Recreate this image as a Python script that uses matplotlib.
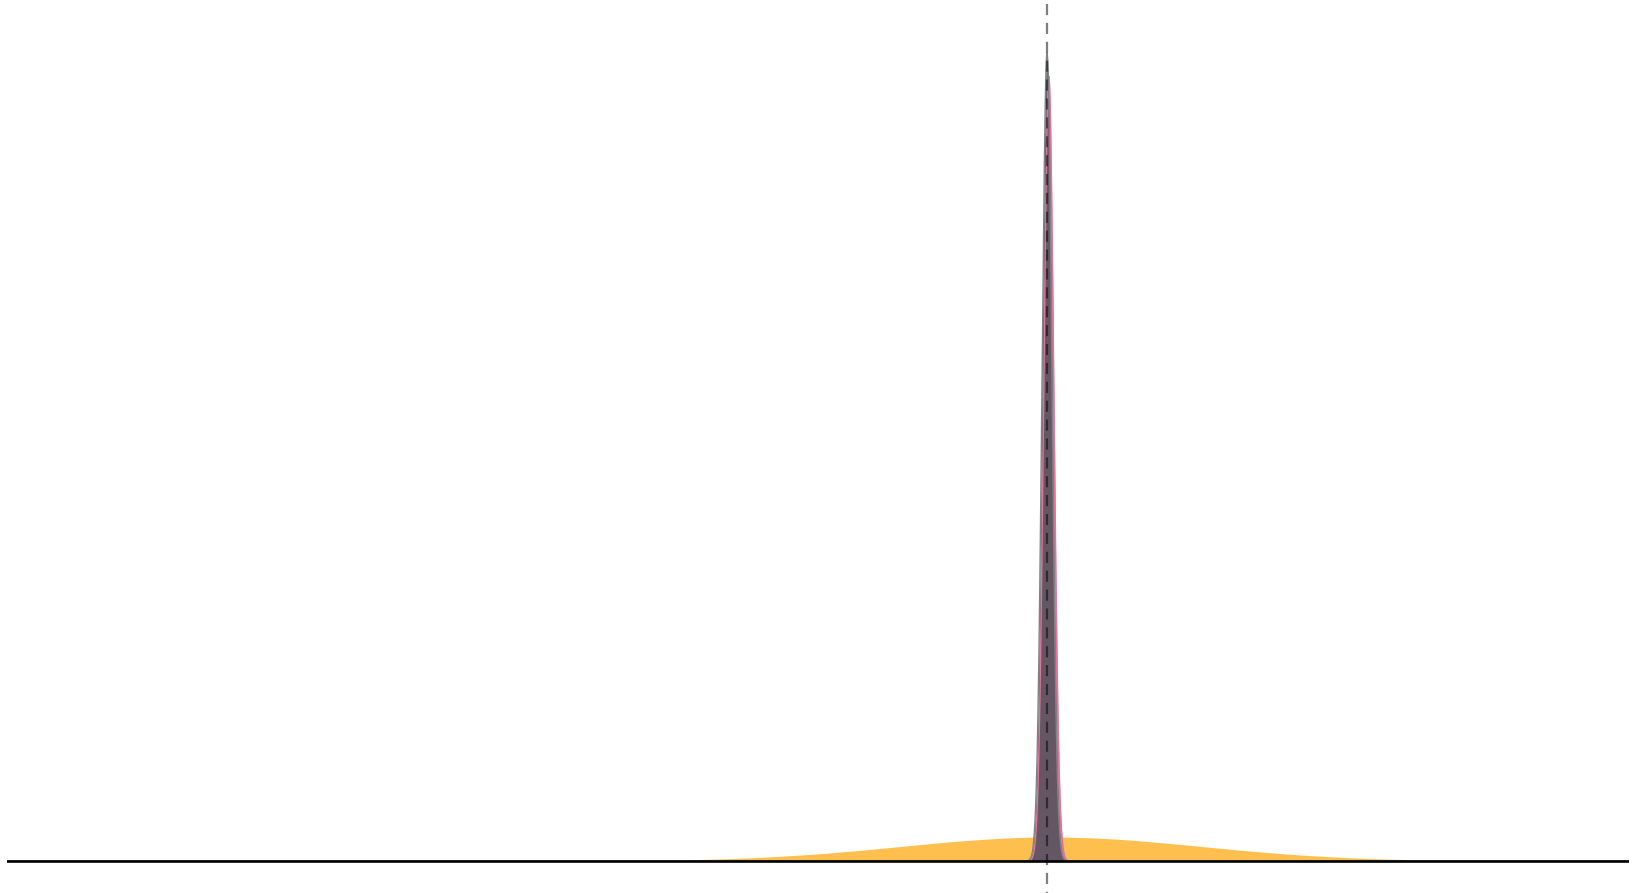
import numpy as np
import matplotlib
matplotlib.use("Agg")
import matplotlib.pyplot as plt

# Distribution parameters (x in arbitrary units, 0 = dashed reference)
names = ["prior", "likelihood", "posterior"]
means = [0.04, 0.018, 0.0]
sds = [1.5, 0.05, 0.049]
peaks = [0.24, 7.85, 8.08]
fill_colors = ["#ffbf4f", "#e8719a", "#645763"]
edge_colors = ["#ffbf4f", "#e8719a", "#7a8686"]
ref_x = 0.0

fig = plt.figure(figsize=(16.37, 8.93), dpi=100)
ax = fig.add_axes([7 / 1637, 0, 1622 / 1637, 1])
x_lo, x_hi = -10.40, 5.82
ax.set_xlim(x_lo, x_hi)
ax.set_ylim(-0.32, 8.61)
ax.axis("off")

xs = np.linspace(x_lo, x_hi, 20001)
for m, s, p, fc, ec in zip(means, sds, peaks, fill_colors, edge_colors):
    y = p * np.exp(-0.5 * ((xs - m) / s) ** 2)
    ax.fill_between(xs, 0, y, color=fc, lw=0, zorder=2)
    if s < 1:
        ax.plot(xs, y, color=ec, lw=1.0, zorder=3)

ax.axhline(0, color="black", lw=1.9, zorder=4)
ax.plot([ref_x, ref_x], [8.57, -0.32], color="black", alpha=0.5, lw=1.6,
        dashes=(5, 3.5), zorder=5, solid_capstyle="butt")

fig.savefig("out.png", dpi=100)
